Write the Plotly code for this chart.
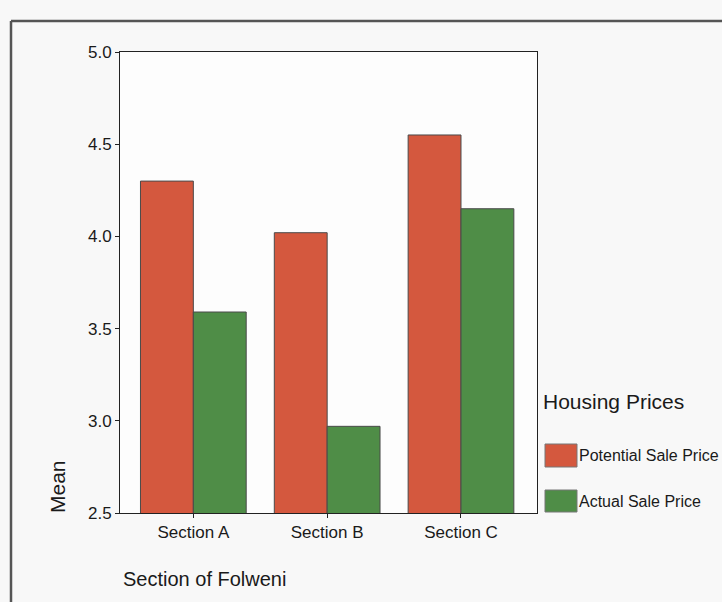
import plotly.graph_objects as go

# Mean housing price rating by section of Folweni
sections = ["Section A", "Section B", "Section C"]
potential_sale_price = [4.30, 4.02, 4.55]
actual_sale_price = [3.59, 2.97, 4.15]
series_names = ["Potential Sale Price", "Actual Sale Price"]
y_ticks = [2.5, 3.0, 3.5, 4.0, 4.5, 5.0]

RED = "#d4583e"
GREEN = "#4f8d47"
EDGE = "#4a4a4a"
TEXT = "#1a1a1a"
FONT = "Arial, 'Liberation Sans', sans-serif"

W, H = 722, 602
L, R, T, B = 120, 537, 52, 513  # plot area in pixels


def px(x):
    return (x - L) / (R - L)


def py(y):
    return (B - y) / (B - T)


fig = go.Figure()
fig.add_trace(go.Bar(x=sections, y=potential_sale_price, name=series_names[0],
                     marker=dict(color=RED, line=dict(color=EDGE, width=1)),
                     showlegend=False))
fig.add_trace(go.Bar(x=sections, y=actual_sale_price, name=series_names[1],
                     marker=dict(color=GREEN, line=dict(color=EDGE, width=1)),
                     showlegend=False))

shapes = []
# outer frame (top and left edges)
shapes.append(dict(type="line", xref="paper", yref="paper",
                   x0=px(11), x1=px(W + 5), y0=py(21), y1=py(21),
                   line=dict(color="#555555", width=2.5)))
shapes.append(dict(type="line", xref="paper", yref="paper",
                   x0=px(11), x1=px(11), y0=py(21), y1=py(H + 5),
                   line=dict(color="#555555", width=2.5)))

# legend swatches
swatches = [(RED, 444, 467), (GREEN, 490, 512)]
for color, y0, y1 in swatches:
    shapes.append(dict(type="rect", xref="paper", yref="paper",
                       x0=px(545), x1=px(577), y0=py(y1), y1=py(y0),
                       fillcolor=color, line=dict(color="#777777", width=1)))

annotations = [
    dict(text="Mean", xref="paper", yref="paper", x=px(57), y=py(487),
         textangle=-90, showarrow=False, xanchor="center", yanchor="middle",
         font=dict(size=21, color=TEXT, family=FONT)),
    dict(text="Section of Folweni", xref="paper", yref="paper", x=px(121), y=py(579),
         showarrow=False, xanchor="left", yanchor="middle",
         font=dict(size=20, color=TEXT, family=FONT)),
    dict(text="Housing Prices", xref="paper", yref="paper", x=px(541), y=py(401),
         showarrow=False, xanchor="left", yanchor="middle",
         font=dict(size=21, color=TEXT, family=FONT)),
]
for name, (_, y0, y1) in zip(series_names, swatches):
    annotations.append(dict(text=name, xref="paper", yref="paper",
                            x=px(577), y=py((y0 + y1) / 2),
                            showarrow=False, xanchor="left", yanchor="middle",
                            font=dict(size=16, color=TEXT, family=FONT)))

fig.update_layout(
    width=W, height=H,
    margin=dict(l=L, r=W - R, t=T, b=H - B, pad=0),
    paper_bgcolor="#f8f8f8",
    plot_bgcolor="#fdfdfd",
    barmode="group",
    bargap=0.21,
    bargroupgap=0,
    font=dict(family=FONT, color=TEXT, size=17),
    shapes=shapes,
    annotations=annotations,
    showlegend=False,
)
fig.update_xaxes(
    type="category", range=[-0.548, 2.568],
    showgrid=False, showline=True, linecolor="#222222", linewidth=1, mirror=True,
    ticks="outside", ticklen=4, tickcolor="#222222",
    tickfont=dict(size=17, color=TEXT, family=FONT),
)
fig.update_yaxes(
    range=[2.5, 5.0], tickvals=y_ticks, tickformat=".1f",
    showgrid=False, showline=True, linecolor="#222222", linewidth=1, mirror=True,
    ticks="outside", ticklen=4, tickcolor="#222222", zeroline=False,
    tickfont=dict(size=17, color=TEXT, family=FONT),
)

fig.write_html("out.html")
